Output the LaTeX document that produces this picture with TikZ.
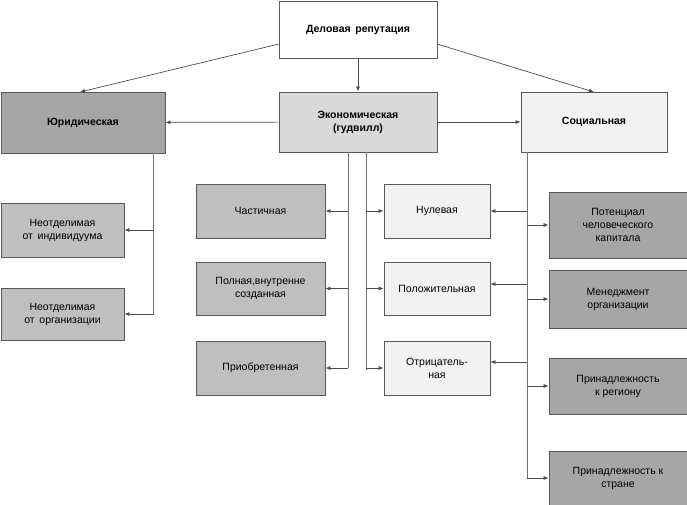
\documentclass[tikz,border=0pt]{standalone}
\usepackage{fontspec}
\setmainfont{Liberation Sans}
\usepackage{tikz}
\usetikzlibrary{arrows.meta}
\tikzset{
  box/.style={draw=black!65, line width=.8pt, align=center, inner sep=1pt,
    font=\fontsize{10.5}{13}\selectfont},
  dark/.style={box, fill=black!35},
  mid/.style={box, fill=black!25},
  pale/.style={box, fill=black!15},
  light/.style={box, fill=black!5},
  link/.style={draw=black!70, line width=.7pt, -{Latex[length=5pt,width=4pt]}},
  bus/.style={draw=black!55, line width=.8pt},
}
\newcommand{\boxat}[6]{% name, style, x1, y1, x2, y2
  \node[#2, minimum width={#5-#3}, minimum height={#6-#4}] (#1) at ({(#3+#5)/2},{(#4+#6)/2})}
\begin{document}
\begin{tikzpicture}[x=1pt, y=-1pt]
  \useasboundingbox (0,0) rectangle (687,505);
  % Ebene 1 und 2.
  \boxat{rep}{box,fill=white}{279}{1}{437}{58} {\bfseries Деловая\, репутация};
  \boxat{jur}{dark}{1}{92}{165}{153} {\bfseries Юридическая};
  \boxat{eco}{pale}{279}{92}{437}{152} {\bfseries Экономическая\\ \bfseries (гудвилл)};
  \boxat{soc}{light}{521}{92}{667}{152} {\bfseries Социальная};

  % Linke Spalte.
  \boxat{ind}{mid}{1}{203}{124}{257} {Неотделимая\\от\, индивидуума};
  \boxat{org}{mid}{1}{288}{124}{340} {Неотделимая\\от\, организации};

  % Mitte.
  \boxat{part}{mid}{196}{184}{325}{238} {Частичная};
  \boxat{full}{mid}{196}{262}{325}{315} {Полная,внутренне\\созданная};
  \boxat{acq}{mid}{196}{341}{325}{395} {Приобретенная};
  \boxat{zero}{light}{384}{184}{490}{238} {Нулевая};
  \boxat{pos}{light}{384}{262}{490}{315} {Положительная};
  \boxat{neg}{light}{384}{341}{490}{395} {Отрицатель-\\ная};

  % Rechte Spalte.
  \boxat{cap}{dark}{549}{192}{687}{258} {Потенциал\\человеческого\\капитала};
  \boxat{man}{dark}{549}{270}{687}{328} {Менеджмент\\организации};
  \boxat{reg}{dark}{549}{358}{687}{414} {Принадлежность\\к региону};
  \boxat{cty}{dark}{549}{451}{687}{505} {Принадлежность к\\стране};

  % Pfeile oben.
  \draw[link] (279,44) -- (80,92);
  \draw[link] (rep) -- (eco);
  \draw[link] (437,44) -- (594,92);
  \draw[link] (eco) -- (jur);
  \draw[link] (eco) -- (soc);

  % Sammelleitungen.
  \coordinate (jb) at (153,153);
  \coordinate (el) at (348,152);
  \coordinate (er) at (366,152);
  \coordinate (sb) at (527,152);
  \draw[bus] (jb) -- (153,315);
  \draw[bus] (el) -- (348,368);
  \draw[bus] (er) -- (366,370);
  \draw[bus] (sb) -- (527,478);

  \foreach \n in {ind,org} \draw[link] (153,0 |- \n.east) -- (\n.east);
  \foreach \n in {part,full,acq} \draw[link] (348,0 |- \n.east) -- (\n.east);
  \foreach \n in {zero,pos,neg} \draw[link] (366,0 |- \n.west) -- (\n.west);
  \foreach \n/\y in {zero/211,pos/284,neg/362} \draw[link] (527,\y) -- (\n.east |- 0,\y);
  \foreach \n in {cap,man,reg,cty} \draw[link] (527,0 |- \n.west) -- (\n.west);
\end{tikzpicture}
\end{document}
